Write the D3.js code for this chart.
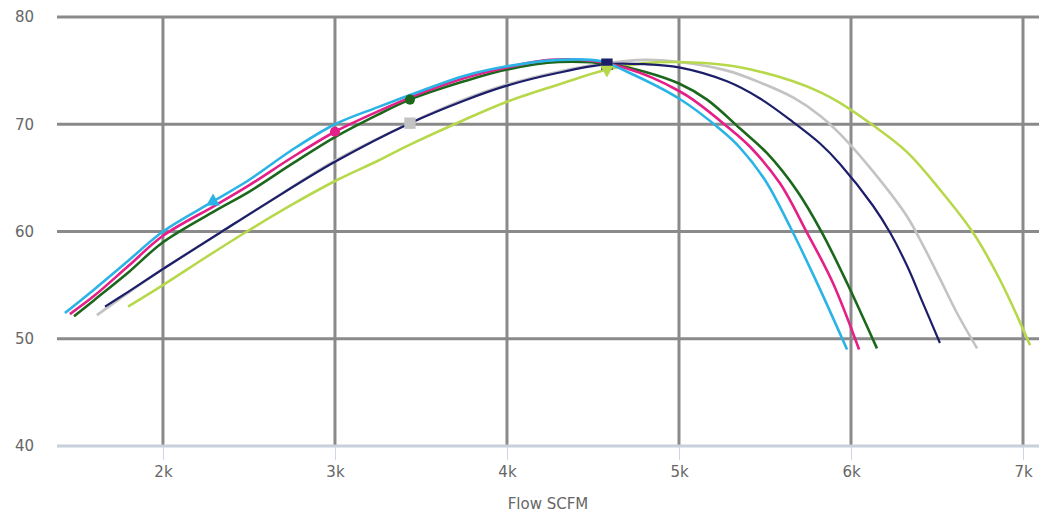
<!DOCTYPE html>
<html><head><meta charset="utf-8">
<script src="https://cdn.jsdelivr.net/npm/d3@7"></script>
<style>body{margin:0;background:#fff;font-family:"DejaVu Sans",sans-serif;}</style>
</head><body><svg id="c" width="1039" height="518"></svg>
<script>
const xTicks = [2000,3000,4000,5000,6000,7000];
const yTicks = [40,50,60,70,80];
const xTitle = "Flow SCFM";
const seriesNames = ["cyan","pink","green","navy","gray","lime"];
const cyanFlow = [1430,1600,1800,2000,2291,2500,2750,3000,3250,3500,3750,4000,4300,4541,4698,5000,5250,5350,5500,5650,5800,5977];
const cyanVal  = [52.4,54.6,57.3,60.0,62.8,64.8,67.6,70.0,71.6,73.1,74.5,75.4,76.0,75.9,74.9,72.4,69.4,67.9,64.8,60.3,55.3,49.0];
const pinkFlow = [1459,1600,1800,2000,2300,2500,2750,3000,3250,3500,3750,4000,4250,4500,4698,4850,5000,5081,5279,5413,5587,5744,5895,6047];
const pinkVal  = [52.3,54.0,56.8,59.6,62.4,64.3,66.9,69.3,71.2,72.9,74.3,75.3,76.0,75.9,75.2,74.3,73.1,72.3,69.8,67.9,64.5,59.9,55.2,49.0];
const greenFlow = [1483,1600,1800,2000,2300,2500,2750,3000,3250,3436,3750,4000,4300,4600,4800,5000,5163,5355,5512,5686,5831,5977,6151];
const greenVal  = [52.1,53.6,56.2,59.0,61.9,63.7,66.3,68.8,70.9,72.3,74.0,75.1,75.8,75.6,74.9,73.8,72.3,69.6,67.3,63.8,59.9,55.2,49.1];
const navyFlow = [1663,1800,2000,2343,2600,3000,3436,3750,4000,4300,4581,4800,5000,5279,5471,5663,5820,5936,6128,6227,6326,6419,6517];
const navyVal  = [53.0,54.4,56.5,60.0,62.6,66.5,70.1,72.2,73.6,74.8,75.6,75.6,75.3,74.0,72.4,70.2,68.2,66.3,62.4,59.9,56.8,53.3,49.6];
const grayFlow = [1616,1800,2000,2343,2600,3000,3436,3750,4000,4300,4581,4800,5000,5279,5471,5663,5820,5936,6128,6326,6419,6517,6616,6733];
const grayVal  = [52.2,54.3,56.5,60.0,62.6,66.6,70.1,72.3,73.7,74.9,75.7,76.0,75.8,75.0,73.9,72.5,70.8,69.1,65.6,61.4,58.7,55.6,52.4,49.1];
const limeFlow = [1797,2000,2250,2488,2750,3012,3250,3436,3750,4000,4300,4581,4800,5000,5279,5471,5663,5820,5936,6128,6326,6517,6709,6866,7041];
const limeVal  = [53.0,55.0,57.6,60.0,62.5,64.8,66.6,68.1,70.4,72.1,73.7,75.1,75.7,75.8,75.5,74.9,74.0,73.0,72.0,69.9,67.4,63.9,59.9,55.5,49.4];
const markerFlow = [2291,3000,3436,4581,3436,4581];
const markerShape = ["triangle","circle","circle","square","square","triangleDown"];

const colors = ["#2ab4e6","#e41f87","#1b681c","#1c1e6a","#c3c3c3","#b8d84b"];
const flows = [cyanFlow,pinkFlow,greenFlow,navyFlow,grayFlow,limeFlow];
const vals = [cyanVal,pinkVal,greenVal,navyVal,grayVal,limeVal];

const svg = d3.select("#c");
const x = d3.scaleLinear().domain([1384,7093]).range([57,1039]);
const y = d3.scaleLinear().domain([40,80]).range([446,17]);

svg.append("g").selectAll("line").data(yTicks.filter(d=>d>40)).join("line")
  .attr("x1",57).attr("x2",1039).attr("y1",d=>y(d)).attr("y2",d=>y(d))
  .attr("stroke","#8a8a8a").attr("stroke-width",3);
svg.append("g").selectAll("line").data(xTicks).join("line")
  .attr("x1",d=>x(d)).attr("x2",d=>x(d)).attr("y1",17).attr("y2",446)
  .attr("stroke","#8a8a8a").attr("stroke-width",3);
svg.append("line").attr("x1",57).attr("x2",1039).attr("y1",y(40)).attr("y2",y(40))
  .attr("stroke","#c8d0dc").attr("stroke-width",3);
const xa = svg.append("g").attr("transform",`translate(0,${y(40)+1})`)
  .call(d3.axisBottom(x).tickValues(xTicks).tickFormat(d=>d/1000+"k").tickSize(13).tickPadding(6));
xa.select(".domain").remove();
xa.selectAll(".tick line").attr("stroke","#ccd6eb").attr("stroke-width",1);
xa.selectAll("text").attr("fill","#666").attr("font-size",15).attr("font-family","DejaVu Sans, sans-serif");
const ya = svg.append("g").attr("transform","translate(34,0)")
  .call(d3.axisLeft(y).tickValues(yTicks).tickSize(0).tickPadding(0));
ya.select(".domain").remove();
ya.selectAll("text").attr("fill","#666").attr("font-size",15).attr("font-family","DejaVu Sans, sans-serif");
svg.append("text").attr("x",548).attr("y",509).attr("text-anchor","middle")
  .attr("fill","#666").attr("font-size",15).attr("font-family","DejaVu Sans, sans-serif").text(xTitle);

const line = d3.line().x(d=>x(d[0])).y(d=>y(d[1])).curve(d3.curveCatmullRom.alpha(0.5));
const order = [4,5,3,2,1,0];
order.forEach(i=>{
  const pts = flows[i].map((f,j)=>[f,vals[i][j]]);
  svg.append("path").datum(pts).attr("d",line).attr("fill","none")
    .attr("stroke",colors[i]).attr("stroke-width", i===3?2.2:2.6).attr("stroke-linejoin","round");
});
const sym = {triangle:d3.symbolTriangle,circle:d3.symbolCircle,square:d3.symbolSquare,triangleDown:d3.symbolTriangle};
[4,3,5,2,1,0].forEach(i=>{
  const f = markerFlow[i];
  const j = flows[i].indexOf(f);
  const v = vals[i][j];
  const s = markerShape[i];
  svg.append("path").attr("d",d3.symbol().type(sym[s]).size(s==="square"?130:80)())
    .attr("transform",`translate(${x(f)},${y(v)})${s==="triangleDown"?" rotate(180)":""}`)
    .attr("fill",colors[i]);
});
</script></body></html>
